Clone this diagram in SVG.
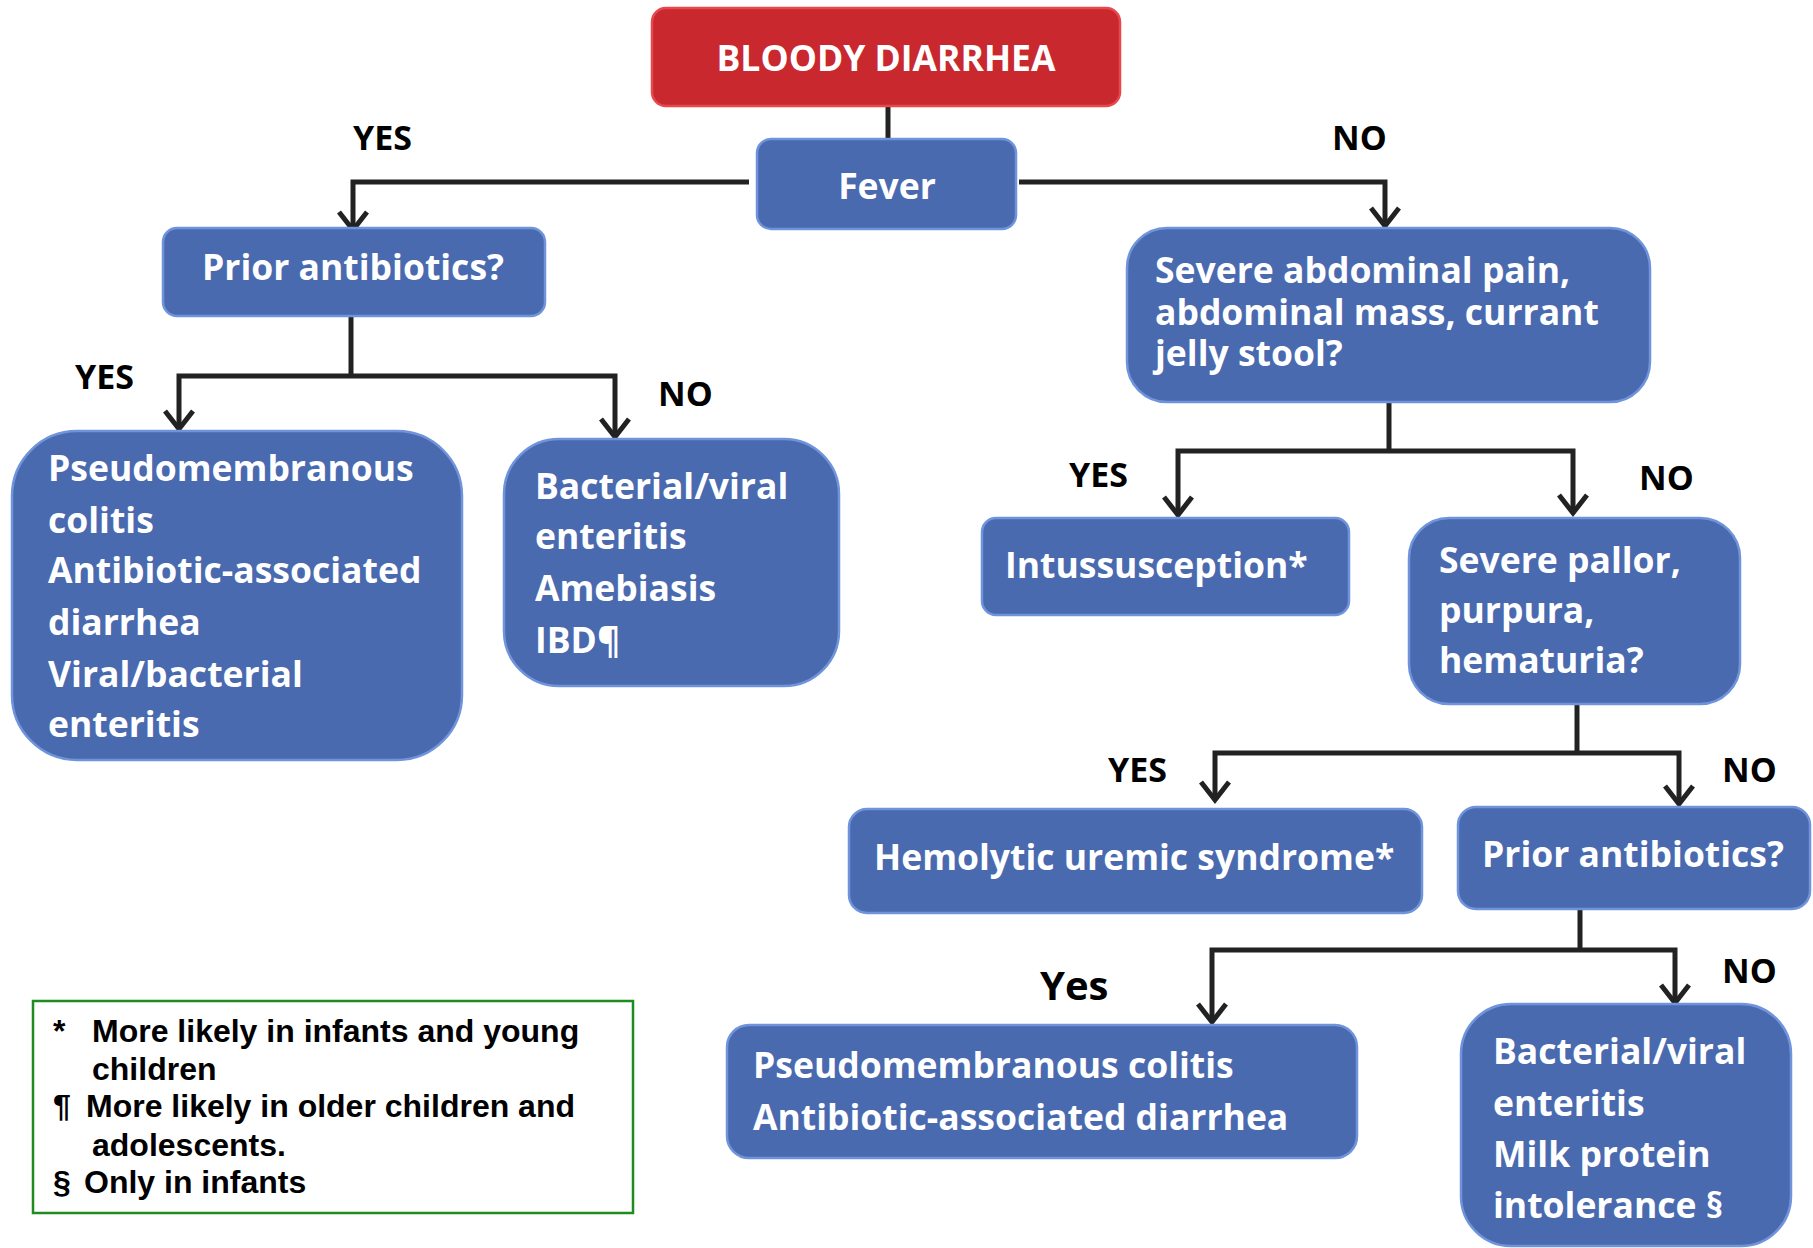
<svg xmlns="http://www.w3.org/2000/svg" width="1813" height="1248" viewBox="0 0 1813 1248">
<defs>
<style>
.box{fill:#4A6AB0;stroke:#7094DC;stroke-width:2.5}
.red{fill:#C9282F;stroke:#E8474C;stroke-width:2.5}
.t{font-family:"Open Sans",Lato,sans-serif;font-weight:bold;fill:#FFFFFF;font-size:35.5px}
.lbl{font-family:"Open Sans",Lato,sans-serif;font-weight:bold;fill:#000000;font-size:34px}
.leg{font-family:"Liberation Sans",Arial,sans-serif;font-weight:bold;fill:#000000;font-size:32px}
.conn{fill:none;stroke:#222222;stroke-width:5;stroke-linejoin:miter}
.arr{marker-end:url(#ah)}
</style>
<marker id="ah" markerUnits="userSpaceOnUse" viewBox="-24 -20 30 40" markerWidth="30" markerHeight="40" refX="0" refY="0" orient="auto">
<path d="M-18,-14 L0,0 L-18,14" fill="none" stroke="#222222" stroke-width="5"/>
</marker>
</defs>
<rect width="1813" height="1248" fill="#FFFFFF"/>

<g id="connectors">
<path class="conn" d="M888,106 V139"/>
<path class="conn arr" d="M749,182 H353 V230"/>
<path class="conn arr" d="M1019,182 H1385 V226"/>
<path class="conn" d="M351,316 V376"/>
<path class="conn arr" d="M351,376 H179 V429"/>
<path class="conn arr" d="M351,376 H615 V437"/>
<path class="conn" d="M1389,402 V451"/>
<path class="conn arr" d="M1389,451 H1178 V515"/>
<path class="conn arr" d="M1389,451 H1573 V513"/>
<path class="conn" d="M1577,704 V753"/>
<path class="conn arr" d="M1577,753 H1215 V800"/>
<path class="conn arr" d="M1577,753 H1679 V804"/>
<path class="conn" d="M1580,909 V950"/>
<path class="conn arr" d="M1580,950 H1212 V1022"/>
<path class="conn arr" d="M1580,950 H1675 V1003"/>
</g>

<g id="labels">
<text class="lbl" x="353" y="150">YES</text>
<text class="lbl" x="1332" y="150">NO</text>
<text class="lbl" x="75" y="389">YES</text>
<text class="lbl" x="658" y="406">NO</text>
<text class="lbl" x="1069" y="487">YES</text>
<text class="lbl" x="1639" y="490">NO</text>
<text class="lbl" x="1108" y="782">YES</text>
<text class="lbl" x="1722" y="782">NO</text>
<text class="lbl" x="1040" y="1000" style="font-size:40px">Yes</text>
<text class="lbl" x="1722" y="983">NO</text>
</g>

<g id="n-bloody">
<rect class="red" x="652" y="8" width="468" height="98" rx="14"/>
<text class="t" x="886" y="71" text-anchor="middle">BLOODY DIARRHEA</text>
</g>
<g id="n-fever">
<rect class="box" x="757" y="139" width="259" height="90" rx="14"/>
<text class="t" x="887" y="199" text-anchor="middle">Fever</text>
</g>
<g id="n-prior1">
<rect class="box" x="163" y="228" width="382" height="88" rx="14"/>
<text class="t" x="353" y="280" text-anchor="middle">Prior antibiotics?</text>
</g>
<g id="n-pseudo1">
<rect class="box" x="12" y="431" width="450" height="329" rx="65"/>
<text class="t" x="48" y="481">Pseudomembranous</text>
<text class="t" x="48" y="533">colitis</text>
<text class="t" x="48" y="583">Antibiotic-associated</text>
<text class="t" x="48" y="635">diarrhea</text>
<text class="t" x="48" y="687">Viral/bacterial</text>
<text class="t" x="48" y="737">enteritis</text>
</g>
<g id="n-bact1">
<rect class="box" x="504" y="439" width="335" height="247" rx="55"/>
<text class="t" x="535" y="499">Bacterial/viral</text>
<text class="t" x="535" y="549">enteritis</text>
<text class="t" x="535" y="601">Amebiasis</text>
<text class="t" x="535" y="653">IBD¶</text>
</g>
<g id="n-severe">
<rect class="box" x="1127" y="228" width="523" height="174" rx="40"/>
<text class="t" x="1155" y="283">Severe abdominal pain,</text>
<text class="t" x="1155" y="325">abdominal mass, currant</text>
<text class="t" x="1155" y="366">jelly stool?</text>
</g>
<g id="n-intus">
<rect class="box" x="982" y="518" width="367" height="97" rx="14"/>
<text class="t" x="1005" y="578">Intussusception*</text>
</g>
<g id="n-pallor">
<rect class="box" x="1409" y="518" width="331" height="186" rx="40"/>
<text class="t" x="1439" y="573">Severe pallor,</text>
<text class="t" x="1439" y="623">purpura,</text>
<text class="t" x="1439" y="673">hematuria?</text>
</g>
<g id="n-hus">
<rect class="box" x="849" y="809" width="573" height="104" rx="18"/>
<text class="t" x="874" y="870">Hemolytic uremic syndrome*</text>
</g>
<g id="n-prior2">
<rect class="box" x="1458" y="807" width="352" height="102" rx="18"/>
<text class="t" x="1482" y="867">Prior antibiotics?</text>
</g>
<g id="n-pseudo2">
<rect class="box" x="727" y="1025" width="630" height="133" rx="22"/>
<text class="t" x="753" y="1078">Pseudomembranous colitis</text>
<text class="t" x="753" y="1130">Antibiotic-associated diarrhea</text>
</g>
<g id="n-bact2">
<rect class="box" x="1461" y="1004" width="330" height="242" rx="50"/>
<text class="t" x="1493" y="1064">Bacterial/viral</text>
<text class="t" x="1493" y="1116">enteritis</text>
<text class="t" x="1493" y="1167">Milk protein</text>
<text class="t" x="1493" y="1218">intolerance §</text>
</g>
<g id="legend">
<rect x="33" y="1001" width="600" height="212" fill="#FFFFFF" stroke="#1E8C1E" stroke-width="2.5"/>
<text class="leg" x="53" y="1042">*</text>
<text class="leg" x="92" y="1042">More likely in infants and young</text>
<text class="leg" x="92" y="1080">children</text>
<text class="leg" x="53" y="1117">¶</text>
<text class="leg" x="86" y="1117">More likely in older children and</text>
<text class="leg" x="92" y="1156">adolescents.</text>
<text class="leg" x="53" y="1193">§</text>
<text class="leg" x="84" y="1193">Only in infants</text>
</g>
</svg>
